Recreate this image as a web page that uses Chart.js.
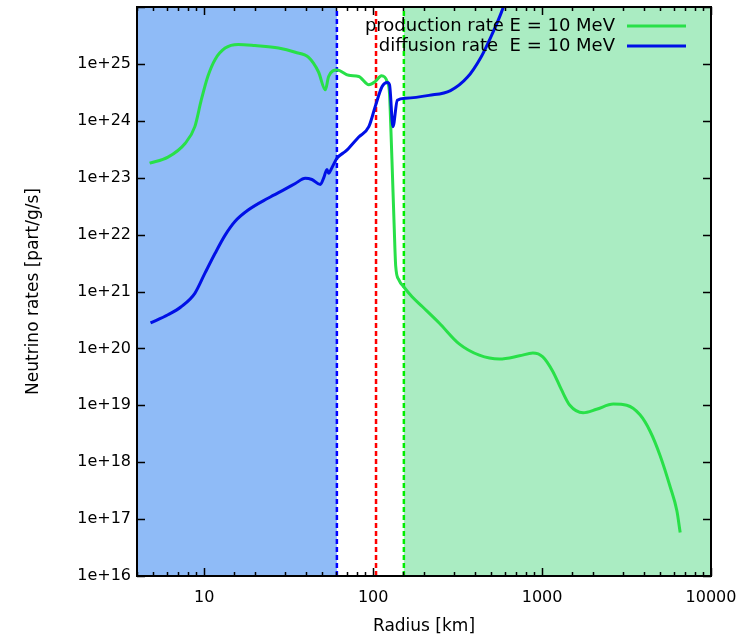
<!DOCTYPE html>
<html>
<head>
<meta charset="utf-8">
<script src="https://cdn.jsdelivr.net/npm/chart.js@4.4.1/dist/chart.umd.min.js"></script>
<style>
  html, body { margin: 0; padding: 0; background: #fff; }
</style>
</head>
<body>
<canvas id="rates" width="749" height="640"></canvas>
<script>
// radius [km] / rate [part/g/s]
const productionRadius = [4.75, 6.1, 7.7, 8.8, 9.6, 10.5, 11.6, 13.3, 15.9, 20, 27.5, 34.6, 41.5, 47.5, 52.1,
    54.5, 61.1, 71.7, 82.2, 94.3, 103, 112, 121, 125, 127, 130, 133, 136, 142, 152,
    170, 196, 246, 323, 425, 559, 735, 882, 1010, 1160, 1300, 1460, 1750, 2100, 2640,
    3170, 3800, 4360, 5000, 5730, 6280, 6570];
const productionRate = [1.8e23, 2.3e23, 4.0e23, 7.9e23, 2.3e24, 6.0e24, 1.2e25, 1.9e25, 2.2e25, 2.1e25, 1.9e25, 1.6e25, 1.3e25, 7.2e24, 3.5e24,
    6.0e24, 7.8e24, 6.3e24, 6.0e24, 4.3e24, 4.9e24, 6.2e24, 4.9e24, 3.0e24, 9.1e23, 1.2e23, 1.6e22, 2.8e21, 1.6e21, 1.2e21,
    8.1e20, 5.4e20, 2.8e20, 1.2e20, 7.6e19, 6.5e19, 7.4e19, 8.3e19, 7.1e19, 3.9e19, 1.9e19, 1.0e19, 7.4e18, 8.5e18, 1.05e19,
    1.0e19, 6.8e18, 3.5e18, 1.3e18, 3.7e17, 1.4e17, 5.8e16];

const diffusionRadius = [4.81, 6.1, 7.3, 8.8, 10.1, 11.6, 13.3, 15.2, 18.2, 24, 30.1, 34.6, 39.6, 43.4, 48.7,
    50.9, 53.3, 54.5, 57, 61.1, 68.5, 71.7, 82.2, 94.3, 103, 113, 121, 125, 131, 139,
    156, 214, 287, 361, 434, 498, 572, 640];
const diffusionRate = [2.8e20, 3.9e20, 5.4e20, 9.3e20, 2.1e21, 4.7e21, 9.8e21, 1.7e22, 2.7e22, 4.4e22, 6.3e22, 7.9e22, 9.8e22, 9.3e22, 7.6e22,
    9.8e22, 1.4e23, 1.2e23, 1.5e23, 2.2e23, 2.9e23, 3.3e23, 5.2e23, 7.9e23, 1.8e24, 4.0e24, 4.7e24, 4.3e24, 7.9e23, 2.3e24,
    2.5e24, 2.8e24, 3.4e24, 5.8e24, 1.3e25, 3.0e25, 7.8e25, 2.0e26];

// dashed boundaries [km] and their colours
const boundaryRadius = [61, 104, 152];
const boundaryColors = ['#0000ff', '#ff0000', '#00ee00'];

// shaded zones [km]
const zoneFrom = [4, 152];
const zoneTo = [61, 10000];
const zoneColors = ['rgb(143, 187, 247)', 'rgb(170, 236, 194)'];

const xRange = [4, 10000];
const yRange = [1e16, 1e26];
const xTickLabels = [10, 100, 1000, 10000];
const yTickLabels = ['1e+16', '1e+17', '1e+18', '1e+19', '1e+20', '1e+21', '1e+22', '1e+23', '1e+24', '1e+25'];

const legendLabels = ['production rate E = 10 MeV', 'diffusion rate  E = 10 MeV'];
const productionColor = 'rgb(40, 224, 72)';
const diffusionColor = 'rgb(0, 16, 230)';

function toPoints(xs, ys) {
    let pts = [];
    for (let i = 0; i < xs.length; i++)
        pts.push({x: xs[i], y: ys[i]});
    return pts;
}

function isDecade(v) {
    let l = Math.log10(v);
    return Math.abs(l - Math.round(l)) < 1e-6;
}

let datasets = [
    {
        label: legendLabels[1],
        data: toPoints(diffusionRadius, diffusionRate),
        borderColor: diffusionColor,
        borderWidth: 3,
        pointRadius: 0,
        cubicInterpolationMode: 'monotone'
    },
    {
        label: legendLabels[0],
        data: toPoints(productionRadius, productionRate),
        borderColor: productionColor,
        borderWidth: 3,
        pointRadius: 0,
        cubicInterpolationMode: 'monotone'
    }
];

for (let i = 0; i < boundaryRadius.length; i++) {
    datasets.push({
        label: 'boundary' + i,
        data: [{x: boundaryRadius[i], y: yRange[0]}, {x: boundaryRadius[i], y: yRange[1]}],
        borderColor: boundaryColors[i],
        borderWidth: 2.5,
        borderDash: [5, 3],
        pointRadius: 0
    });
}

const zones = {
    id: 'zones',
    beforeDatasetsDraw(chart) {
        const {ctx, chartArea, scales: {x}} = chart;
        ctx.save();
        for (let i = 0; i < zoneFrom.length; i++) {
            let x0 = x.getPixelForValue(zoneFrom[i]);
            let x1 = x.getPixelForValue(zoneTo[i]);
            ctx.fillStyle = zoneColors[i];
            ctx.fillRect(x0, chartArea.top, x1 - x0, chartArea.bottom - chartArea.top);
        }
        ctx.restore();
    }
};

// gnuplot style frame with inward ticks on all four sides
const frame = {
    id: 'frame',
    afterDatasetsDraw(chart) {
        const {ctx, chartArea: a, scales: {x, y}} = chart;
        ctx.save();
        ctx.strokeStyle = '#000';
        ctx.lineWidth = 1.5;
        ctx.beginPath();
        for (const t of x.ticks) {
            let px = Math.round(x.getPixelForValue(t.value)) + 0.5;
            let len = isDecade(t.value) ? 8 : 4;
            ctx.moveTo(px, a.bottom); ctx.lineTo(px, a.bottom - len);
            ctx.moveTo(px, a.top); ctx.lineTo(px, a.top + len);
        }
        for (const t of y.ticks) {
            if (!isDecade(t.value)) continue;
            let py = Math.round(y.getPixelForValue(t.value)) + 0.5;
            ctx.moveTo(a.left, py); ctx.lineTo(a.left + 8, py);
            ctx.moveTo(a.right, py); ctx.lineTo(a.right - 8, py);
        }
        ctx.stroke();
        ctx.lineWidth = 2;
        ctx.strokeRect(a.left, a.top, a.right - a.left, a.bottom - a.top);
        ctx.restore();
    }
};

const keyBox = {
    id: 'keyBox',
    afterDraw(chart) {
        const {ctx, chartArea: a} = chart;
        const colors = [productionColor, diffusionColor];
        ctx.save();
        ctx.font = '18px "DejaVu Sans"';
        ctx.textAlign = 'right';
        ctx.textBaseline = 'middle';
        for (let i = 0; i < legendLabels.length; i++) {
            let ly = a.top + 19 + i * 20;
            ctx.fillStyle = '#000';
            ctx.fillText(legendLabels[i], a.right - 96, ly);
            ctx.strokeStyle = colors[i];
            ctx.lineWidth = 3;
            ctx.beginPath();
            ctx.moveTo(a.right - 84, ly);
            ctx.lineTo(a.right - 25, ly);
            ctx.stroke();
        }
        ctx.restore();
    }
};

Chart.defaults.font.family = '"DejaVu Sans", sans-serif';
Chart.defaults.color = '#000';

const chart = new Chart(document.getElementById('rates'), {
    type: 'line',
    data: {datasets: datasets},
    options: {
        responsive: false,
        animation: false,
        layout: {padding: {top: 7, right: 38, left: 0, bottom: 0}},
        plugins: {
            legend: {display: false},
            tooltip: {enabled: false}
        },
        scales: {
            x: {
                type: 'logarithmic',
                min: xRange[0],
                max: xRange[1],
                grid: {display: false, drawTicks: false},
                border: {display: false},
                ticks: {
                    autoSkip: false,
                    maxRotation: 0,
                    padding: 12,
                    font: {size: 16},
                    callback: v => xTickLabels.includes(v) ? String(v) : ''
                },
                title: {display: true, text: 'Radius [km]', font: {size: 17}, padding: {bottom: 3}},
                afterFit: s => { s.height = 64; s.paddingLeft = 0; s.paddingRight = 0; }
            },
            y: {
                type: 'logarithmic',
                min: yRange[0],
                max: yRange[1],
                grid: {display: false, drawTicks: false},
                border: {display: false},
                ticks: {
                    autoSkip: false,
                    padding: 6,
                    font: {size: 16},
                    callback: v => {
                        if (!isDecade(v)) return '';
                        let label = '1e+' + Math.round(Math.log10(v));
                        return yTickLabels.includes(label) ? label : '';
                    }
                },
                title: {display: true, text: 'Neutrino rates [part/g/s]', font: {size: 17}, padding: {top: 23}},
                afterFit: s => { s.width = 137; s.paddingTop = 0; s.paddingBottom = 0; }
            }
        }
    },
    plugins: [zones, frame, keyBox]
});
</script>
</body>
</html>
